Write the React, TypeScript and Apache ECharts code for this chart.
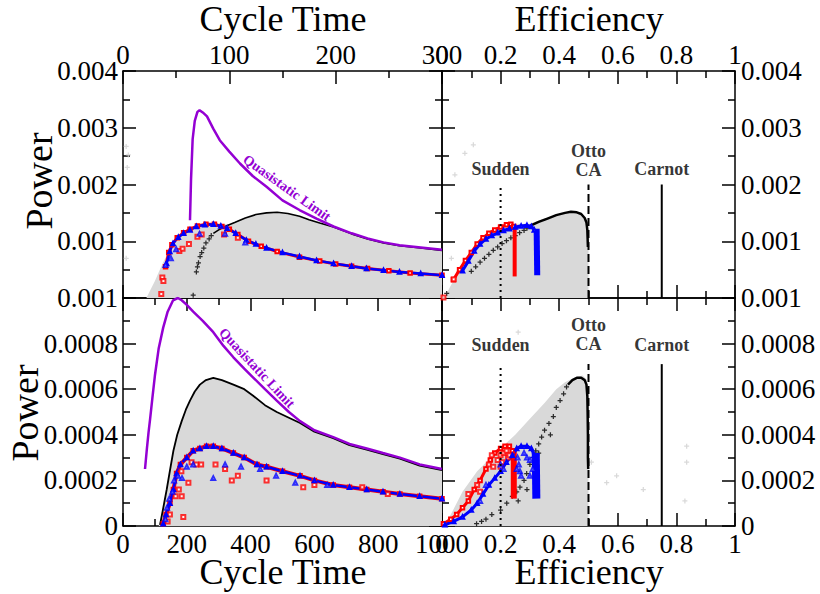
import React, { useEffect, useRef } from 'react';
import * as echarts from 'echarts';

const FONT = '"Liberation Serif", "Times New Roman", serif';

// ---------- Top-left: Power vs Cycle Time (0-300) ----------
const tlQuasistatic: number[][] = [[63,0.00137],[64,0.0021],[65.5,0.0028],[67.5,0.00312],[70,0.00328],[72,0.00331],[75,0.00327],[79,0.0032],[85,0.00298],[91,0.00278],[100,0.00258],[110,0.00237],[122,0.00215],[135,0.00196],[150,0.00172],[166,0.00155],[182,0.0014],[198,0.00126],[215,0.00114],[230,0.00105],[245,0.00098],[260,0.00093],[280,0.00089],[300,0.00085]];
const tlBlackDense: number[][] = [[85,0.00114],[90,0.0012],[97,0.00127],[105,0.00133],[115,0.00141],[125,0.00147],[135,0.0015],[145,0.00151],[155,0.00149],[166,0.00144],[175,0.00138],[185,0.00132],[198,0.00125],[215,0.00113],[230,0.00104],[245,0.00097],[260,0.00092],[280,0.00088],[300,0.00084]];
const tlBlackSparse: number[][] = [[66,0.00005],[69,0.00046],[70,0.00055],[71,0.00062],[72.5,0.00073],[74,0.0008],[76,0.00088],[78,0.00097],[81,0.00104],[83,0.0011]];
const tlGray: number[][] = [[22,0],[30,0.0003],[37,0.0006],[41,0.00075],[46,0.00095],[52,0.0011],[60,0.0012],[70,0.00127],[80,0.0013],[90,0.0013],[100,0.0013],[110,0.00138],[125,0.00147],[135,0.0015],[145,0.00151],[155,0.00149],[166,0.00144],[185,0.00132],[198,0.00125],[215,0.00113],[230,0.00104],[245,0.00097],[260,0.00092],[280,0.00088],[300,0.00084]];
const tlRed: number[][] = [[40,0.00055],[43,0.0008],[46,0.00094],[51,0.00106],[57,0.00115],[63,0.00121],[70,0.00127],[78,0.0013],[86,0.0013],[93,0.00126],[100,0.00121],[108,0.00112],[118,0.001],[130,0.00091],[145,0.00082],[166,0.00072],[185,0.00065],[200,0.0006],[215,0.00056],[230,0.00052],[250,0.00048],[270,0.00044],[300,0.0004]];
const tlBlue: number[][] = [[41,0.00061],[44,0.00082],[47,0.00096],[52,0.00107],[57,0.00114],[63,0.0012],[69,0.00126],[77,0.00129],[85,0.0013],[92,0.00127],[98,0.00123],[106,0.00114],[116,0.00102],[125,0.00095],[135,0.00088],[150,0.0008],[166,0.00073],[182,0.00066],[198,0.00061],[215,0.00056],[229,0.00052],[245,0.00049],[260,0.00046],[280,0.00043],[300,0.0004]];
const tlRedScatter: number[][] = [[36,0.00007],[37,0.00036],[38,0.0003],[53,0.00083],[56,0.00087],[62,0.00095],[70,0.00108],[74,0.00112],[95,0.00112],[108,0.00106]];
const tlBlueScatter: number[][] = [[40,0.00058],[45,0.0007],[50,0.00086],[72,0.00113],[96,0.00113],[115,0.00098]];
const tlFaint: number[][] = [[3,0.00267],[5,0.00252],[4,0.0023],[3,0.0007]];

// ---------- Top-right: Power vs Efficiency ----------
const trGray: number[][] = [[0.008,0],[0.03,0.00022],[0.05,0.0004],[0.08,0.00065],[0.1,0.00079],[0.13,0.00099],[0.16,0.00113],[0.19,0.00123],[0.22,0.0013],[0.25,0.00131],[0.3,0.00131],[0.35,0.0014],[0.4,0.00148],[0.43,0.00152],[0.45,0.00153],[0.47,0.0015],[0.485,0.00144],[0.495,0.00132],[0.5,0.0011],[0.5,0]];
const trBlackDense: number[][] = [[0.3,0.00127],[0.33,0.00134],[0.36,0.0014],[0.39,0.00146],[0.42,0.0015],[0.44,0.00152],[0.46,0.00151],[0.475,0.00148],[0.487,0.00141],[0.493,0.00133],[0.496,0.0012],[0.497,0.00105],[0.498,0.0009]];
const trBlackSparse: number[][] = [[0.016,0.00008],[0.1,0.00047],[0.115,0.00055],[0.13,0.00063],[0.145,0.0007],[0.16,0.00077],[0.175,0.00084],[0.19,0.0009],[0.205,0.00096],[0.22,0.00101],[0.235,0.00106],[0.25,0.0011],[0.265,0.00115],[0.28,0.00119],[0.29,0.00123]];
const trRed: number[][] = [[0.039,0.00032],[0.06,0.0005],[0.08,0.00066],[0.1,0.0008],[0.12,0.00095],[0.14,0.00106],[0.16,0.00114],[0.18,0.0012],[0.2,0.00125],[0.22,0.00129],[0.235,0.0013],[0.245,0.00126]];
const trRedBand: number[][] = [[0.248,0.00124],[0.248,0.00038]];
const trBlue: number[][] = [[0.07,0.00048],[0.09,0.00065],[0.11,0.00083],[0.13,0.00095],[0.15,0.00104],[0.17,0.0011],[0.19,0.00115],[0.21,0.00119],[0.23,0.00122],[0.25,0.00125],[0.27,0.00127],[0.29,0.00128],[0.305,0.00126],[0.315,0.0012]];
const trBlueBand: number[][] = [[0.323,0.00122],[0.325,0.0004]];
const trRedScatter: number[][] = [[0.005,0.00001],[0.04,0.00033]];
const trFaint: number[][] = [[0.107,0.0027],[0.078,0.00255],[0.044,0.00217],[0.032,0.0007]];

// ---------- Bottom-left: Power vs Cycle Time (0-1000) ----------
const blQuasistatic: number[][] = [[69,0.00025],[75,0.00034],[80,0.00041],[85,0.00047],[92,0.00056],[100,0.00066],[112,0.00078],[126,0.00087],[140,0.00094],[157,0.00099],[172,0.001],[184,0.00099],[200,0.00097],[220,0.00094],[250,0.0009],[283,0.00085],[315,0.00079],[346,0.00074],[380,0.00069],[409,0.00065],[445,0.0006],[482,0.00055],[520,0.0005],[555,0.00046],[600,0.00042],[659,0.00039],[710,0.00036],[764,0.00034],[815,0.00032],[868,0.0003],[930,0.00027],[1000,0.00025]];
const blBlack: number[][] = [[116,0.000005],[125,0.00007],[137,0.00016],[148,0.00025],[158,0.00033],[170,0.0004],[184,0.00046],[197,0.00051],[210,0.00055],[225,0.00059],[241,0.00062],[260,0.00064],[283,0.00065],[310,0.00064],[346,0.00062],[380,0.0006],[409,0.00057],[445,0.00053],[482,0.0005],[520,0.000475],[555,0.000452],[600,0.000414],[659,0.000385],[710,0.000355],[764,0.000335],[815,0.000315],[868,0.000295],[930,0.000265],[1000,0.000245]];
const blGray: number[][] = [[112,0],[125,0.00007],[137,0.00016],[148,0.00025],[158,0.00033],[170,0.0004],[184,0.00046],[197,0.00051],[210,0.00055],[225,0.00059],[241,0.00062],[260,0.00064],[283,0.00065],[310,0.00064],[346,0.00062],[380,0.0006],[409,0.00057],[445,0.00053],[482,0.0005],[520,0.000475],[555,0.000452],[600,0.000414],[659,0.000385],[710,0.000355],[764,0.000335],[815,0.000315],[868,0.000295],[930,0.000265],[1000,0.000245]];
const blBand: number[][] = [[126,0.00001],[135,0.00005],[147,0.0001],[158,0.00016],[168,0.00023],[180,0.00027],[200,0.0003],[220,0.00033],[241,0.00034],[262,0.00035],[283,0.00035],[310,0.00034],[346,0.00032],[380,0.0003],[420,0.00027],[450,0.00026],[500,0.00024],[555,0.00022],[600,0.0002],[659,0.00018],[710,0.00017],[764,0.00016],[815,0.00015],[868,0.00014],[930,0.00013],[1000,0.00012]];
const blRedScatter: number[][] = [[189,0.00004],[140,0.00002],[147,0.00005],[165,0.00013],[184,0.00013],[175,0.00016],[183,0.00024],[205,0.00019],[215,0.00028],[230,0.00027],[245,0.00027],[290,0.00027],[320,0.00025],[341,0.0002],[360,0.00022],[450,0.0002],[565,0.00017],[600,0.00018],[750,0.00017],[830,0.00014]];
const blBlueScatter: number[][] = [[133,0.00003],[138,0.00008],[145,0.00012],[155,0.00015],[160,0.0002],[172,0.00022],[185,0.00021],[200,0.00026],[220,0.00027],[283,0.00021],[320,0.00027],[370,0.00026],[430,0.00025],[480,0.00022],[540,0.00019],[640,0.00018]];

// ---------- Bottom-right: Power vs Efficiency ----------
const brGray: number[][] = [[0.004,0],[0.03,0.00005],[0.07,0.00015],[0.12,0.00024],[0.19,0.00033],[0.25,0.0004],[0.3,0.00047],[0.35,0.00054],[0.39,0.0006],[0.42,0.00063],[0.45,0.00065],[0.48,0.00066],[0.495,0.00064],[0.5,0.0006],[0.5,0]];
const brBlackDense: number[][] = [[0.43,0.00062],[0.445,0.00064],[0.46,0.00065],[0.475,0.00065],[0.487,0.00064],[0.493,0.00062],[0.496,0.00057],[0.497,0.0005],[0.498,0.0004],[0.498,0.0003],[0.499,0.00025]];
const brBlackSparse: number[][] = [[0.118,0.00001],[0.135,0.00002],[0.15,0.00003],[0.17,0.00005],[0.2,0.00007],[0.221,0.0001],[0.24,0.00013],[0.255,0.00015],[0.266,0.00017],[0.28,0.0002],[0.289,0.00023],[0.3,0.00027],[0.31,0.0003],[0.32,0.00033],[0.33,0.00036],[0.34,0.00039],[0.35,0.00042],[0.365,0.00045],[0.38,0.00048],[0.39,0.00052],[0.403,0.00055],[0.415,0.00058],[0.425,0.00061],[0.26,0.00011],[0.29,0.00016],[0.33,0.00032],[0.37,0.0004]];
const brRed: number[][] = [[0.005,0.00001],[0.03,0.00003],[0.05,0.00005],[0.07,0.00008],[0.09,0.00011],[0.11,0.00016],[0.13,0.0002],[0.15,0.00025],[0.165,0.00029],[0.18,0.00032],[0.2,0.00034],[0.215,0.00035],[0.23,0.00035],[0.24,0.00033]];
const brRedBand: number[][] = [[0.245,0.00033],[0.245,0.00012]];
const brRedScatter: number[][] = [[0.16,0.00027],[0.17,0.00031],[0.19,0.00029],[0.2,0.00031],[0.21,0.00032],[0.22,0.00033],[0.205,0.00028],[0.225,0.0003],[0.175,0.00026],[0.13,0.00015],[0.12,0.00018],[0.09,0.00014],[0.2,0.00026],[0.23,0.00031]];
const brBlue: number[][] = [[0.01,0.000005],[0.04,0.00002],[0.07,0.00004],[0.1,0.00007],[0.12,0.0001],[0.14,0.00014],[0.16,0.00018],[0.18,0.00021],[0.2,0.00024],[0.22,0.00028],[0.24,0.00031],[0.255,0.00034],[0.27,0.00035],[0.29,0.00035],[0.305,0.00034],[0.315,0.00031]];
const brBlueBand: number[][] = [[0.32,0.00032],[0.322,0.00012]];
const brBlueScatter: number[][] = [[0.258,0.0003],[0.262,0.00027],[0.266,0.00024],[0.27,0.00022],[0.28,0.00032],[0.29,0.0003],[0.3,0.00029],[0.255,0.00025],[0.2,0.00027],[0.21,0.00025],[0.15,0.00018],[0.13,0.00011],[0.31,0.00025],[0.3,0.00022]];
const brFaint: number[][] = [[0.51,0.00028],[0.562,0.00019],[0.596,0.00022],[0.687,0.00016],[0.835,0.00035],[0.835,0.00028],[0.829,0.00011],[0.26,0.00085]];

// ---------- Reference efficiencies ----------
const refEfficiencies = [0.2, 0.5, 0.75];
const refNames = ['Sudden', 'Otto\nCA', 'Carnot'];
const topRefTop = 0.002;
const bottomRefTop = 0.00071;
const topRefLabelP = [0.00227, 0.00243, 0.00227];
const bottomRefLabelP = [0.000794, 0.00084, 0.000794];

// axis ranges / tick labels
const cycleTopRange = { min: 0, max: 300, interval: 100 };
const cycleBottomRange = { min: 0, max: 1000, interval: 200 };
const effRange = { min: 0, max: 1, interval: 0.2 };
const powerTopRange = { min: 0, max: 0.004, interval: 0.001 };
const powerBottomRange = { min: 0, max: 0.001, interval: 0.0002 };

const PLUS = 'path://M-1,-4H1V-1H4V1H1V4H-1V1H-4V-1H-1Z';
const PURPLE = '#9400d3';
const GRAY = '#d9d9d9';

function App() {
  const ref = useRef<HTMLDivElement>(null);
  useEffect(() => {
    if (!ref.current) return;
    const chart = echarts.init(ref.current, undefined, { renderer: 'svg' });

    const lineStyleAxis = { color: '#000', width: 1.5 };
    const fmtTop = (v: number) => String(+v.toFixed(3));
    const fmtBottom = (v: number) => String(+v.toFixed(4));
    const fmtEff = (v: number) => String(+v.toFixed(1));
    const fmtInt = (v: number) => String(Math.round(v));

    const mkAxis = (gridIndex: number, position: string, range: any, label: any) => ({
      type: 'value',
      gridIndex,
      position,
      ...range,
      axisLine: { show: true, onZero: false, lineStyle: lineStyleAxis },
      axisTick: { show: true, inside: true, length: 13, lineStyle: lineStyleAxis },
      minorTick: { show: true, splitNumber: 2, length: 7, lineStyle: lineStyleAxis },
      splitLine: { show: false },
      minorSplitLine: { show: false },
      axisLabel: label
        ? { show: true, color: '#000', fontFamily: FONT, fontSize: 27, ...label }
        : { show: false },
    });

    const xAxis = [
      mkAxis(0, 'top', cycleTopRange, { margin: 3, formatter: fmtInt }),
      mkAxis(0, 'bottom', cycleTopRange, null),
      mkAxis(1, 'top', effRange, { margin: 3, formatter: fmtEff }),
      mkAxis(1, 'bottom', effRange, null),
      mkAxis(2, 'bottom', cycleBottomRange, { margin: 4, formatter: fmtInt }),
      mkAxis(2, 'top', cycleBottomRange, null),
      mkAxis(3, 'bottom', effRange, { margin: 4, formatter: fmtEff }),
      mkAxis(3, 'top', effRange, null),
    ];
    const yAxis = [
      mkAxis(0, 'left', powerTopRange, { margin: 5, formatter: fmtTop, showMinLabel: false }),
      mkAxis(0, 'right', powerTopRange, null),
      mkAxis(1, 'right', powerTopRange, { margin: 6, formatter: fmtTop, showMinLabel: false }),
      mkAxis(1, 'left', powerTopRange, null),
      mkAxis(2, 'left', powerBottomRange, { margin: 5, formatter: fmtBottom }),
      mkAxis(2, 'right', powerBottomRange, null),
      mkAxis(3, 'right', powerBottomRange, { margin: 6, formatter: fmtBottom }),
      mkAxis(3, 'left', powerBottomRange, null),
    ];

    const L = (data: number[][], ax: number, color: string, width: number, z: number, extra: any = {}) => ({
      type: 'line', data, xAxisIndex: ax, yAxisIndex: ax, symbol: 'none', showSymbol: false,
      lineStyle: { color, width }, z, silent: true, ...extra,
    });
    const A = (data: number[][], ax: number) => ({
      type: 'line', data, xAxisIndex: ax, yAxisIndex: ax, symbol: 'none', showSymbol: false,
      lineStyle: { width: 0, color: GRAY }, areaStyle: { color: GRAY, opacity: 1 }, z: 1, silent: true,
    });
    const S = (data: number[][], ax: number, symbol: string, size: number, color: string, z: number) => ({
      type: 'scatter', data, xAxisIndex: ax, yAxisIndex: ax, symbol, symbolSize: size,
      itemStyle: { color, borderWidth: symbol.startsWith('empty') ? 1 : 0 }, z, silent: true,
    });
    const M = (data: number[][], ax: number, color: string, width: number, symbol: string, z: number) => ({
      type: 'line', data, xAxisIndex: ax, yAxisIndex: ax, symbol, symbolSize: 3.5, showSymbol: true,
      lineStyle: { color, width }, itemStyle: { color, borderWidth: 1 }, z, silent: true,
    });

    const refSeries = (ax: number, top: number, labelP: number[]) => {
      const out: any[] = [];
      refEfficiencies.forEach((e, i) => {
        const type = i === 0 ? [2, 4] : i === 1 ? [8, 4] : 'solid';
        out.push(L([[e, 0], [e, top]], ax, '#000', 2, 6, {
          lineStyle: { color: '#000', width: 2, type },
        }));
      });
      out.push({
        type: 'scatter', xAxisIndex: ax, yAxisIndex: ax, symbolSize: 1, silent: true, z: 7,
        itemStyle: { color: 'rgba(0,0,0,0)' },
        data: refEfficiencies.map((e, i) => ({ name: refNames[i], value: [e, labelP[i]] })),
        label: {
          show: true, position: 'inside', formatter: (p: any) => p.name,
          fontFamily: FONT, fontWeight: 'bold', fontSize: 18, color: '#000', lineHeight: 19,
        },
      });
      return out;
    };

    const series: any[] = [
      // top-left
      A(tlGray, 0),
      S(tlFaint, 0, PLUS, 5, '#d0d0d0', 2),
      S(tlBlackSparse, 0, PLUS, 5, '#000', 3),
      L(tlBlackDense, 0, '#000', 1.6, 3),
      L(tlQuasistatic, 0, PURPLE, 2.5, 4),
      M(tlRed, 0, '#ff0000', 3, 'emptyRect', 5),
      S(tlRedScatter, 0, 'emptyRect', 4, '#ff0000', 5),
      M(tlBlue, 0, '#0000ff', 2.5, 'emptyTriangle', 5),
      S(tlBlueScatter, 0, 'emptyTriangle', 4, '#0000ff', 5),
      // top-right
      A(trGray, 2),
      S(trFaint, 2, PLUS, 5, '#d0d0d0', 2),
      S(trBlackSparse, 2, PLUS, 5, '#000', 4),
      L(trBlackDense, 2, '#000', 2.5, 4),
      M(trRed, 2, '#ff0000', 3, 'emptyRect', 5),
      L(trRedBand, 2, '#ff0000', 4, 5),
      S(trRedScatter, 2, 'emptyRect', 4, '#ff0000', 5),
      M(trBlue, 2, '#0000ff', 3, 'emptyTriangle', 5),
      L(trBlueBand, 2, '#0000ff', 6, 5),
      ...refSeries(2, topRefTop, topRefLabelP),
      // bottom-left
      A(blGray, 4),
      L(blBlack, 4, '#000', 1.8, 3),
      L(blQuasistatic, 4, PURPLE, 2.5, 4),
      M(blBand, 4, '#ff0000', 4, 'emptyRect', 5),
      S(blRedScatter, 4, 'emptyRect', 4, '#ff0000', 5),
      M(blBand, 4, '#0000ff', 2.5, 'emptyTriangle', 5),
      S(blBlueScatter, 4, 'emptyTriangle', 4, '#0000ff', 5),
      // bottom-right
      A(brGray, 6),
      S(brFaint, 6, PLUS, 5, '#d0d0d0', 2),
      S(brBlackSparse, 6, PLUS, 5, '#000', 4),
      L(brBlackDense, 6, '#000', 2.5, 4),
      M(brRed, 6, '#ff0000', 3, 'emptyRect', 5),
      S(brRedScatter, 6, 'emptyRect', 4, '#ff0000', 5),
      L(brRedBand, 6, '#ff0000', 6, 5),
      M(brBlue, 6, '#0000ff', 3, 'emptyTriangle', 5),
      S(brBlueScatter, 6, 'emptyTriangle', 4, '#0000ff', 5),
      L(brBlueBand, 6, '#0000ff', 8, 5),
      ...refSeries(6, bottomRefTop, bottomRefLabelP),
    ];

    const title = (text: string, x: number, y: number, size: number, rotation = 0) => ({
      type: 'text', x, y, rotation, silent: true,
      style: { text, fontFamily: FONT, fontSize: size, fill: '#000', textAlign: 'center', textVerticalAlign: 'middle' },
    });
    const qLabel = (x: number, y: number, rotation: number) => ({
      type: 'text', x, y, rotation, silent: true, z: 100,
      style: { text: 'Quasistatic Limit', fontFamily: FONT, fontWeight: 'bold', fontSize: 14, fill: PURPLE, textAlign: 'center', textVerticalAlign: 'middle' },
    });

    chart.setOption({
      animation: false,
      backgroundColor: '#fff',
      grid: [
        { left: 123, top: 71, width: 319, height: 227 },
        { left: 442, top: 71, width: 293, height: 227 },
        { left: 123, top: 298, width: 319, height: 228 },
        { left: 442, top: 298, width: 293, height: 228 },
      ],
      xAxis,
      yAxis,
      series,
      graphic: [
        title('Cycle Time', 283, 18.5, 36),
        title('Efficiency', 589, 18.5, 36),
        title('Cycle Time', 283, 572, 36),
        title('Efficiency', 589, 572, 36),
        title('Power', 39, 181, 38, Math.PI / 2),
        title('Power', 25, 413, 38, Math.PI / 2),
        qLabel(287, 188, -0.62),
        qLabel(257, 368, -0.82),
      ],
    });
    return () => chart.dispose();
  }, []);
  return <div ref={ref} style={{ position: 'fixed', left: 0, top: 0, width: 820, height: 594, background: '#fff' }} />;
}

export default App;
